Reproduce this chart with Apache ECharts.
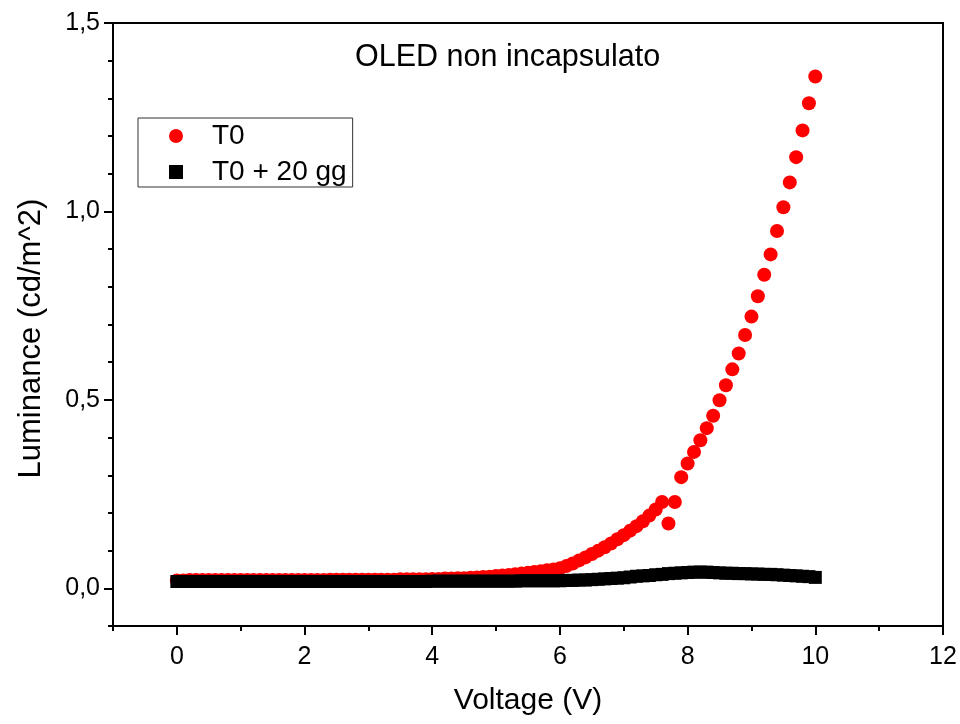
<!DOCTYPE html>
<html>
<head>
<meta charset="utf-8">
<title>OLED non incapsulato</title>
<script src="https://cdn.jsdelivr.net/npm/echarts@6/dist/echarts.min.js"></script>
<style>
  html, body { margin: 0; padding: 0; background: #fff; }
  #chart { width: 960px; height: 724px; }
</style>
</head>
<body>
<div id="chart"></div>
<script>
// tensione applicata (V)
var voltage = [
  0.0, 0.1, 0.2, 0.3, 0.4, 0.5, 0.6, 0.7, 0.8, 0.9,
  1.0, 1.1, 1.2, 1.3, 1.4, 1.5, 1.6, 1.7, 1.8, 1.9,
  2.0, 2.1, 2.2, 2.3, 2.4, 2.5, 2.6, 2.7, 2.8, 2.9,
  3.0, 3.1, 3.2, 3.3, 3.4, 3.5, 3.6, 3.7, 3.8, 3.9,
  4.0, 4.1, 4.2, 4.3, 4.4, 4.5, 4.6, 4.7, 4.8, 4.9,
  5.0, 5.1, 5.2, 5.3, 5.4, 5.5, 5.6, 5.7, 5.8, 5.9,
  6.0, 6.1, 6.2, 6.3, 6.4, 6.5, 6.6, 6.7, 6.8, 6.9,
  7.0, 7.1, 7.2, 7.3, 7.4, 7.5, 7.6, 7.7, 7.8, 7.9,
  8.0, 8.1, 8.2, 8.3, 8.4, 8.5, 8.6, 8.7, 8.8, 8.9,
  9.0, 9.1, 9.2, 9.3, 9.4, 9.5, 9.6, 9.7, 9.8, 9.9,
  10.0
];

// luminanza T0 (cd/m^2)
var lumT0 = [
  0.021, 0.021, 0.022, 0.022, 0.022, 0.022, 0.022, 0.022, 0.022, 0.022,
  0.022, 0.022, 0.022, 0.022, 0.022, 0.022, 0.022, 0.022, 0.022, 0.022,
  0.022, 0.022, 0.022, 0.022, 0.023, 0.023, 0.023, 0.023, 0.023, 0.023,
  0.023, 0.023, 0.023, 0.023, 0.023, 0.024, 0.024, 0.024, 0.024, 0.024,
  0.025, 0.025, 0.026, 0.026, 0.027, 0.027, 0.028, 0.029, 0.030, 0.031,
  0.033, 0.034, 0.035, 0.037, 0.039, 0.041, 0.043, 0.045, 0.048, 0.050,
  0.053, 0.059, 0.066, 0.074, 0.082, 0.091, 0.100, 0.109, 0.119, 0.130,
  0.141, 0.153, 0.165, 0.178, 0.193, 0.209, 0.229, 0.172, 0.229, 0.295,
  0.331, 0.362, 0.393, 0.425, 0.458, 0.499, 0.539, 0.581, 0.623, 0.672,
  0.721, 0.775, 0.832, 0.886, 0.948, 1.011, 1.077, 1.144, 1.215, 1.287,
  1.358
];

// luminanza T0 + 20 gg (cd/m^2)
var lumT20 = [
  0.018, 0.018, 0.018, 0.018, 0.018, 0.018, 0.018, 0.018, 0.018, 0.018,
  0.018, 0.018, 0.018, 0.018, 0.018, 0.018, 0.018, 0.018, 0.018, 0.018,
  0.018, 0.018, 0.018, 0.018, 0.018, 0.018, 0.018, 0.018, 0.018, 0.018,
  0.018, 0.018, 0.018, 0.018, 0.018, 0.018, 0.018, 0.018, 0.018, 0.018,
  0.019, 0.019, 0.019, 0.019, 0.019, 0.019, 0.019, 0.019, 0.019, 0.019,
  0.019, 0.019, 0.019, 0.019, 0.020, 0.020, 0.020, 0.020, 0.020, 0.020,
  0.020, 0.021, 0.021, 0.022, 0.022, 0.023, 0.024, 0.025, 0.026, 0.027,
  0.028, 0.030, 0.032, 0.033, 0.034, 0.036, 0.037, 0.039, 0.040, 0.041,
  0.042, 0.043, 0.043, 0.043, 0.042, 0.041, 0.040, 0.040, 0.039, 0.039,
  0.038, 0.038, 0.037, 0.037, 0.036, 0.035, 0.034, 0.033, 0.032, 0.031,
  0.029
];

var seriesNames = ['T0', 'T0 + 20 gg'];
var xTicks = [0, 2, 4, 6, 8, 10, 12];
var yTicks = [0.0, 0.5, 1.0, 1.5];

var FONT = "'Liberation Sans', Arial, sans-serif";

// riquadro del grafico
var G = { left: 113, right: 17, top: 23, bottom: 98 };
var W = 960 - G.left - G.right;
var H = 724 - G.top - G.bottom;
var xMin = -1, xMax = 12, yMin = -0.1, yMax = 1.5;
var x0px = G.left + W * (0 - xMin) / (xMax - xMin);
var y0px = G.top + H * (yMax - 0) / (yMax - yMin);

function pairs(xs, ys) {
  var out = [];
  for (var i = 0; i < xs.length; i++) out.push([xs[i], ys[i]]);
  return out;
}

var chart = echarts.init(document.getElementById('chart'), null, { renderer: 'canvas' });

var option = {
  animation: false,
  backgroundColor: '#fff',
  textStyle: { fontFamily: FONT, color: '#000' },
  title: {
    text: 'OLED non incapsulato',
    left: 355,
    top: 42,
    padding: 0,
    textStyle: { fontFamily: FONT, fontSize: 30.5, fontWeight: 'normal', color: '#000' }
  },
  legend: {
    orient: 'vertical',
    left: 138,
    top: 118,
    padding: [4, 6, 1, 31],
    itemWidth: 62,
    itemHeight: 14,
    itemGap: 8,
    borderColor: '#333',
    borderWidth: 1,
    data: [
      { name: seriesNames[0], icon: 'circle' },
      { name: seriesNames[1], icon: 'path://M0,0H10V10H0Z' }
    ],
    textStyle: { fontFamily: FONT, fontSize: 28, color: '#000' }
  },
  grid: [
    { left: G.left, right: G.right, top: G.top, bottom: G.bottom,
      show: true, borderColor: '#000', borderWidth: 2, backgroundColor: 'transparent' },
    // griglia ausiliaria per le tacche principali (0..12, 0..1,5)
    { left: x0px, right: G.right, top: G.top, bottom: 724 - y0px }
  ],
  xAxis: [
    {
      gridIndex: 0, type: 'value', min: xMin, max: xMax, interval: 1,
      name: 'Voltage (V)', nameLocation: 'middle', nameGap: 60,
      nameTextStyle: { fontFamily: FONT, fontSize: 30, color: '#000' },
      axisLine: { onZero: false, lineStyle: { color: '#000', width: 2 } },
      axisTick: { inside: false, length: 5, lineStyle: { color: '#000', width: 2 } },
      axisLabel: { show: false },
      splitLine: { show: false }
    },
    {
      gridIndex: 1, type: 'value', min: xTicks[0], max: xTicks[xTicks.length - 1], interval: 2,
      position: 'bottom', offset: (G.top + H) - y0px,
      axisLine: { show: false, onZero: false },
      axisTick: { inside: false, length: 9, lineStyle: { color: '#000', width: 2 } },
      axisLabel: { fontFamily: FONT, fontSize: 25, color: '#000', margin: 19 },
      splitLine: { show: false }
    }
  ],
  yAxis: [
    {
      gridIndex: 0, type: 'value', min: yMin, max: yMax, interval: 0.1,
      name: 'Luminance (cd/m^2)', nameLocation: 'middle', nameGap: 66,
      nameTextStyle: { fontFamily: FONT, fontSize: 31, color: '#000', padding: [0, 28, 0, 0] },
      axisLine: { onZero: false, lineStyle: { color: '#000', width: 2 } },
      axisTick: { inside: false, length: 5, lineStyle: { color: '#000', width: 2 } },
      axisLabel: { show: false },
      splitLine: { show: false }
    },
    {
      gridIndex: 1, type: 'value', min: yTicks[0], max: yTicks[yTicks.length - 1], interval: 0.5,
      position: 'left', offset: x0px - G.left,
      axisLine: { show: false, onZero: false },
      axisTick: { inside: false, length: 9, lineStyle: { color: '#000', width: 2 } },
      axisLabel: {
        fontFamily: FONT, fontSize: 25, color: '#000', margin: 13,
        formatter: function (v) { return v.toFixed(1).replace('.', ','); }
      },
      splitLine: { show: false }
    }
  ],
  series: [
    {
      name: seriesNames[0], type: 'scatter', xAxisIndex: 0, yAxisIndex: 0,
      symbol: 'circle', symbolSize: 14,
      itemStyle: { color: '#ff0000', opacity: 1 },
      data: pairs(voltage, lumT0), z: 2
    },
    {
      name: seriesNames[1], type: 'scatter', xAxisIndex: 0, yAxisIndex: 0,
      symbol: 'rect', symbolSize: 13,
      itemStyle: { color: '#000000', opacity: 1 },
      data: pairs(voltage, lumT20), z: 3
    }
  ]
};

chart.setOption(option);
</script>
</body>
</html>
